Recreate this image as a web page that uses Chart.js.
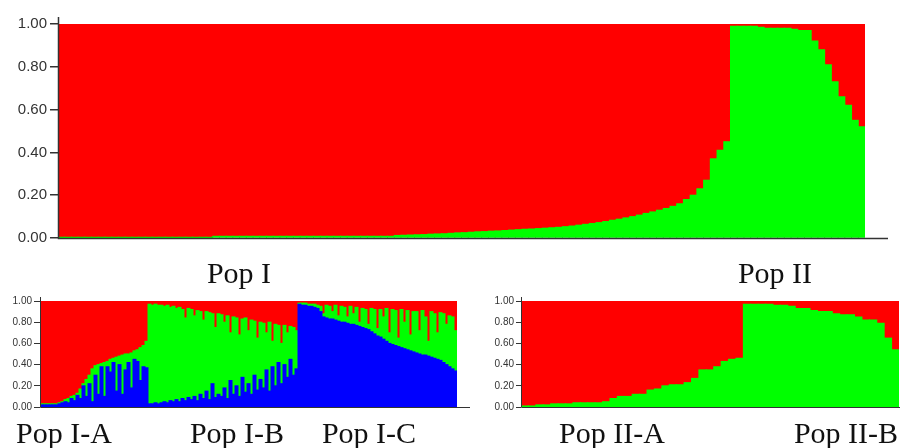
<!DOCTYPE html>
<html>
<head>
<meta charset="utf-8">
<script src="https://cdn.jsdelivr.net/npm/chart.js@4/dist/chart.umd.min.js"></script>
<style>
  body { margin: 0; background: #fff; }
  #page { position: relative; width: 900px; height: 448px; overflow: hidden; }
  .box { position: absolute; }
  .pop { position: absolute; font-family: "Liberation Serif", "Times New Roman", serif; font-size: 30px; line-height: 30px; color: #111; white-space: nowrap; transform: translateX(-50%); }
</style>
</head>
<body>
<div id="page">
  <div class="box" style="left:0;top:0;width:900px;height:250px"><canvas id="topChart"></canvas></div>
  <div class="box" style="left:0;top:280px;width:480px;height:140px"><canvas id="popIChart"></canvas></div>
  <div class="box" style="left:480px;top:280px;width:420px;height:140px"><canvas id="popIIChart"></canvas></div>
</div>
<script>
// group names
let top_groups = ["Pop I", "Pop II"];
let pop1_groups = ["Pop I-A", "Pop I-B", "Pop I-C"];
let pop2_groups = ["Pop II-A", "Pop II-B"];
let y_ticks = [0, 0.2, 0.4, 0.6, 0.8, 1.0];

// top plot, K=2, green membership per individual (red is the rest)
let top_green = [
  0.002,0.002,0.002,0.002,0.002,0.002,0.002,0.002,0.002,0.002,
  0.002,0.002,0.002,0.002,0.002,0.002,0.002,0.002,0.002,0.002,
  0.002,0.002,0.002,
  0.008,0.008,0.008,0.008,0.008,0.008,0.008,0.008,0.008,0.008,
  0.008,0.008,0.008,0.008,0.008,0.008,0.008,0.008,0.008,0.008,
  0.008,0.008,0.008,0.008,0.008,0.008,0.008,
  0.012,0.013,0.014,0.015,0.016,0.018,0.019,0.02,0.022,
  0.024,0.025,0.027,0.029,0.03,0.032,0.033,0.035,0.037,0.039,
  0.041,0.042,0.044,0.046,0.048,0.05,0.053,0.056,0.06,0.064,
  0.068,0.072,0.077,0.083,0.088,0.094,0.1,0.107,0.115,0.122,
  0.13,0.138,0.148,0.16,0.18,0.2,0.23,0.27,0.37,0.41,0.45,
  0.99,0.99,0.99,0.99,0.985,0.98,0.98,0.98,0.98,0.975,
  0.97,0.97,0.92,0.88,0.81,0.73,0.66,0.62,0.55,0.52
];

// Pop I, K=3: blue and green per individual
let popIA_blue = [0.02,0.02,0.02,0.02,0.02,0.02,0.03,0.04,0.05,0.04,
  0.08,0.06,0.11,0.08,0.2,0.1,0.22,0.05,0.3,0.12,
  0.38,0.1,0.38,0.33,0.42,0.15,0.4,0.12,0.35,0.42,
  0.18,0.45,0.43,0.25,0.38,0.37];
let popIA_green = [0.01,0.01,0.01,0.01,0.01,0.01,0.01,0.01,0.02,0.04,
  0.02,0.05,0.02,0.09,0.02,0.16,0.08,0.31,0.09,0.28,
  0.03,0.32,0.05,0.12,0.04,0.32,0.08,0.37,0.15,0.08,
  0.33,0.08,0.11,0.31,0.2,0.25];
let popIB_blue = [0.03,0.03,0.04,0.03,0.04,0.05,0.04,0.06,0.05,0.07,
  0.05,0.08,0.06,0.09,0.07,0.1,0.06,0.12,0.08,0.15,
  0.07,0.22,0.09,0.12,0.1,0.18,0.08,0.25,0.12,0.2,
  0.1,0.28,0.14,0.22,0.12,0.3,0.16,0.26,0.18,0.35,
  0.15,0.38,0.2,0.42,0.22,0.4,0.28,0.45,0.3,0.36];
let popIB_green = [0.94,0.93,0.93,0.93,0.92,0.90,0.92,0.88,0.90,0.86,
  0.89,0.84,0.78,0.84,0.85,0.76,0.85,0.78,0.74,0.75,
  0.82,0.66,0.66,0.76,0.77,0.62,0.78,0.45,0.73,0.64,
  0.58,0.55,0.70,0.50,0.70,0.51,0.49,0.54,0.61,0.35,
  0.65,0.24,0.58,0.35,0.38,0.37,0.42,0.31,0.45,0.36];
let popIC_blue = [0.97,0.96,0.96,0.95,0.95,0.94,0.93,0.90,0.85,0.84,
  0.83,0.83,0.82,0.81,0.8,0.8,0.79,0.78,0.78,0.77,
  0.76,0.75,0.74,0.73,0.71,0.69,0.67,0.66,0.64,0.62,
  0.6,0.59,0.58,0.57,0.56,0.55,0.54,0.53,0.52,0.51,
  0.5,0.49,0.49,0.48,0.47,0.46,0.45,0.44,0.42,0.40,
  0.38,0.36,0.34];
let popIC_green = [0.01,0.02,0.02,0.02,0.02,0.03,0.03,0.05,0.03,0.12,
  0.12,0.07,0.14,0.05,0.15,0.14,0.06,0.17,0.10,0.17,
  0.04,0.18,0.18,0.05,0.22,0.23,0.07,0.26,0.21,0.31,
  0.10,0.33,0.33,0.08,0.36,0.25,0.37,0.15,0.38,0.39,
  0.22,0.42,0.36,0.14,0.43,0.42,0.25,0.45,0.46,0.38,
  0.48,0.49,0.38];

// Pop II, K=2: green per individual
let popIIA_green = [0.01,0.01,0.02,0.02,0.03,0.03,0.03,0.04,0.04,0.04,
  0.04,0.05,0.08,0.1,0.1,0.12,0.12,0.16,0.17,0.2,
  0.21,0.21,0.23,0.27,0.35,0.35,0.38,0.43,0.45,0.46];
let popIIB_green = [0.97,0.97,0.97,0.97,0.96,0.96,0.95,0.93,0.93,0.91,
  0.9,0.9,0.88,0.87,0.87,0.85,0.82,0.82,0.79,0.65,0.54];

let RED = "#ff0000", GREEN = "#00ff00", BLUE = "#0000ff";

function rest(a, b) {
  // remaining membership to the last cluster
  return a.map((v, i) => Math.max(0, 1 - v - (b ? b[i] : 0)));
}

function ids(n) {
  return Array.from({length: n}, (_, i) => String(i + 1));
}

let axis_lines = {
  id: "axis_lines",
  afterDraw(chart, args, o) {
    let ctx = chart.ctx, a = chart.chartArea;
    ctx.save();
    ctx.strokeStyle = o.color;
    ctx.lineWidth = o.width;
    ctx.beginPath();
    ctx.moveTo(a.left + 0.5, a.top - o.up);
    ctx.lineTo(a.left + 0.5, a.bottom + 0.5);
    ctx.lineTo(a.right + o.ext, a.bottom + 0.5);
    ctx.stroke();
    ctx.restore();
  }
};

function bar_set(data, color) {
  return {data: data, backgroundColor: color, borderWidth: 0,
    barPercentage: 1, categoryPercentage: 1, inflateAmount: 0.5};
}

function make_chart(id, labels, sets, c) {
  return new Chart(id, {
    type: "bar",
    data: {labels: labels, datasets: sets},
    plugins: [axis_lines],
    options: {
      responsive: true,
      maintainAspectRatio: false,
      animation: false,
      layout: {padding: c.pad},
      plugins: {
        legend: {display: false},
        tooltip: {enabled: false},
        axis_lines: {color: "#333", width: c.lw, up: c.up, ext: c.ext}
      },
      scales: {
        x: {
          stacked: true,
          ticks: {display: false},
          grid: {display: false},
          border: {display: false},
          afterFit: (s) => { s.height = 0; }
        },
        y: {
          stacked: true,
          min: 0, max: 1,
          afterBuildTicks: (s) => { s.ticks = y_ticks.map(v => ({value: v})); },
          afterFit: (s) => { s.width = c.yw; },
          ticks: {
            color: "#333",
            padding: c.tp,
            font: {family: "Arial, 'Liberation Sans', sans-serif", size: c.fs},
            callback: (v) => Number(v).toFixed(2)
          },
          grid: {drawOnChartArea: false, drawTicks: true, tickLength: c.tl, color: "#333", lineWidth: c.lw},
          border: {display: false}
        }
      }
    }
  });
}

// top panel
make_chart("topChart", ids(top_green.length), [
  bar_set(top_green, GREEN),
  bar_set(rest(top_green), RED)
], {pad: {top: 24, bottom: 10, left: 0, right: 35}, yw: 58, fs: 15, tl: 8, tp: 3, lw: 1.5, up: 7, ext: 23});

// Pop I panel
let p1_blue = popIA_blue.concat(popIB_blue, popIC_blue);
let p1_green = popIA_green.concat(popIB_green, popIC_green);
make_chart("popIChart", ids(p1_blue.length), [
  bar_set(p1_blue, BLUE),
  bar_set(p1_green, GREEN),
  bar_set(rest(p1_blue, p1_green), RED)
], {pad: {top: 21, bottom: 13, left: 0, right: 23}, yw: 40, fs: 10, tl: 6, tp: 2, lw: 1, up: 4, ext: 13});

// Pop II panel
let p2_green = popIIA_green.concat(popIIB_green);
make_chart("popIIChart", ids(p2_green.length), [
  bar_set(p2_green, GREEN),
  bar_set(rest(p2_green), RED)
], {pad: {top: 21, bottom: 13, left: 0, right: 1}, yw: 41, fs: 10, tl: 5, tp: 2, lw: 1, up: 4, ext: 1});

// group labels under the panels
let page = document.getElementById("page");
function add_label(text, x, y) {
  let d = document.createElement("div");
  d.className = "pop";
  d.textContent = text;
  d.style.left = x + "px";
  d.style.top = y + "px";
  page.appendChild(d);
}
add_label(top_groups[0], 239, 258);
add_label(top_groups[1], 775, 258);
add_label(pop1_groups[0], 64, 418);
add_label(pop1_groups[1], 237, 418);
add_label(pop1_groups[2], 369, 418);
add_label(pop2_groups[0], 612, 418);
add_label(pop2_groups[1], 846, 418);
</script>
</body>
</html>
